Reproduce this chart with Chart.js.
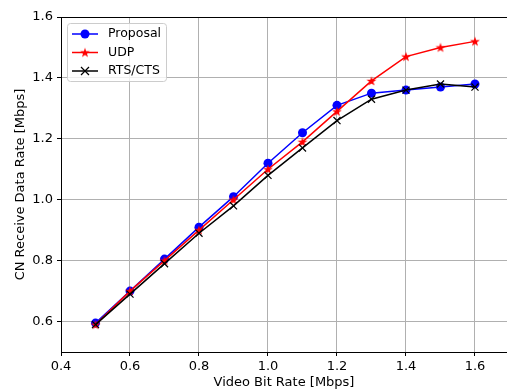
<!DOCTYPE html>
<html>
<head>
<meta charset="utf-8">
<script src="https://cdn.jsdelivr.net/npm/chart.js@4.4.1/dist/chart.umd.min.js"></script>
<style>
html,body{margin:0;padding:0;background:#fff;}
canvas{display:block;}
</style>
</head>
<body>
<canvas id="chart" width="507" height="390"></canvas>
<script>
// data
const bitRates = [0.5, 0.6, 0.7, 0.8, 0.9, 1.0, 1.1, 1.2, 1.3, 1.4, 1.5, 1.6];
const proposal = [0.595, 0.70, 0.805, 0.91, 1.01, 1.12, 1.22, 1.31, 1.35, 1.36, 1.37, 1.38];
const udp      = [0.59, 0.70, 0.80, 0.90, 1.00, 1.10, 1.19, 1.29, 1.39, 1.47, 1.50, 1.52];
const rtsCts   = [0.59, 0.69, 0.79, 0.89, 0.98, 1.08, 1.17, 1.26, 1.33, 1.36, 1.38, 1.37];
const xTicks = [0.4, 0.6, 0.8, 1.0, 1.2, 1.4, 1.6];
const yTicks = [0.6, 0.8, 1.0, 1.2, 1.4, 1.6];

Chart.defaults.font.family = "'DejaVu Sans', sans-serif";
Chart.defaults.font.size = 13;
Chart.defaults.color = "#000";

function pts(ys) { return bitRates.map((x, i) => ({x: x, y: ys[i]})); }

function starPath(g, cx, cy, r) {
  g.beginPath();
  for (let i = 0; i < 10; i++) {
    const rad = i % 2 === 0 ? r : r * 0.382;
    const a = -Math.PI / 2 + i * Math.PI / 5;
    const px = cx + rad * Math.cos(a), py = cy + rad * Math.sin(a);
    if (i) g.lineTo(px, py); else g.moveTo(px, py);
  }
  g.closePath();
}

function starImage(color) {
  const c = document.createElement("canvas");
  c.width = 12; c.height = 12;
  const g = c.getContext("2d");
  starPath(g, 6, 6.4, 5.2);
  g.fillStyle = color; g.fill();
  return c;
}
const redStar = starImage("#ff0000");

function drawMarker(ctx, kind, x, y) {
  ctx.save();
  if (kind === "circle") {
    ctx.fillStyle = "#0000ff";
    ctx.beginPath(); ctx.arc(x, y, 4.5, 0, Math.PI * 2); ctx.fill();
  } else if (kind === "star") {
    ctx.drawImage(redStar, x - 6, y - 6);
  } else {
    ctx.strokeStyle = "#000"; ctx.lineWidth = 1.2;
    ctx.beginPath();
    ctx.moveTo(x - 4, y - 4); ctx.lineTo(x + 4, y + 4);
    ctx.moveTo(x - 4, y + 4); ctx.lineTo(x + 4, y - 4);
    ctx.stroke();
  }
  ctx.restore();
}

const legendItems = [
  {label: "Proposal", color: "#0000ff", marker: "circle"},
  {label: "UDP", color: "#ff0000", marker: "star"},
  {label: "RTS/CTS", color: "#000000", marker: "cross"}
];

const framePlugin = {
  id: "frame",
  afterDraw(chart) {
    const {ctx, chartArea: a} = chart;
    ctx.save();
    // top spine
    ctx.strokeStyle = "#000"; ctx.lineWidth = 1;
    ctx.beginPath(); ctx.moveTo(a.left, a.top + 0.5); ctx.lineTo(a.right, a.top + 0.5); ctx.stroke();

    // legend box
    const bx = 67.5, by = 23.5, bw = 99, bh = 58, r = 3;
    ctx.beginPath();
    ctx.roundRect(bx, by, bw, bh, r);
    ctx.fillStyle = "rgba(255,255,255,0.8)"; ctx.fill();
    ctx.strokeStyle = "#cccccc"; ctx.lineWidth = 1; ctx.stroke();

    const rows = [34, 52.5, 71];
    ctx.font = "12.5px 'DejaVu Sans', sans-serif";
    ctx.textBaseline = "middle";
    ctx.textAlign = "left";
    legendItems.forEach((it, i) => {
      const y = rows[i];
      ctx.strokeStyle = it.color; ctx.lineWidth = 1.5;
      ctx.beginPath(); ctx.moveTo(72, y); ctx.lineTo(98, y); ctx.stroke();
      drawMarker(ctx, it.marker, 85, y);
      ctx.fillStyle = "#000";
      ctx.fillText(it.label, 108, y);
    });
    ctx.restore();
  }
};

new Chart(document.getElementById("chart"), {
  type: "line",
  data: {
    datasets: [
      {label: "Proposal", data: pts(proposal), borderColor: "#0000ff", backgroundColor: "#0000ff",
       borderWidth: 1.5, pointStyle: "circle", pointRadius: 4.5, pointBorderWidth: 0, order: 3},
      {label: "UDP", data: pts(udp), borderColor: "#ff0000", backgroundColor: "#ff0000",
       borderWidth: 1.5, pointStyle: redStar, pointRadius: 5, order: 2},
      {label: "RTS/CTS", data: pts(rtsCts), borderColor: "#000000", backgroundColor: "#000000",
       borderWidth: 1.5, pointStyle: "crossRot", pointRadius: 5, pointBorderWidth: 1.2, order: 1}
    ]
  },
  options: {
    responsive: false,
    animation: false,
    events: [],
    layout: {autoPadding: false, padding: {top: 17, left: 0, right: 0, bottom: 0}},
    plugins: {legend: {display: false}, tooltip: {enabled: false}},
    elements: {line: {tension: 0, fill: false}},
    scales: {
      x: {
        type: "linear", min: 0.4, max: 1.6928,
        afterBuildTicks: s => { s.ticks = xTicks.map(v => ({value: v})); },
        afterFit: s => { s.height = 38; },
        grid: {color: "#b0b0b0", lineWidth: 1, tickColor: "#000", tickLength: 4, tickWidth: 1},
        border: {color: "#000", width: 1},
        ticks: {color: "#000", padding: 3, maxRotation: 0, autoSkip: false, callback: v => v.toFixed(1)},
        title: {display: true, text: "Video Bit Rate [Mbps]", color: "#000", padding: 0}
      },
      y: {
        type: "linear", min: 0.5, max: 1.6,
        afterBuildTicks: s => { s.ticks = yTicks.map(v => ({value: v})); },
        afterFit: s => { s.width = 61; },
        grid: {color: "#b0b0b0", lineWidth: 1, tickColor: "#000", tickLength: 4, tickWidth: 1},
        border: {color: "#000", width: 1},
        ticks: {color: "#000", padding: 4, autoSkip: false, callback: v => v.toFixed(1)},
        title: {display: true, text: "CN Receive Data Rate [Mbps]", color: "#000", padding: {top: 13, bottom: 0}}
      }
    }
  },
  plugins: [framePlugin]
});
</script>
</body>
</html>
